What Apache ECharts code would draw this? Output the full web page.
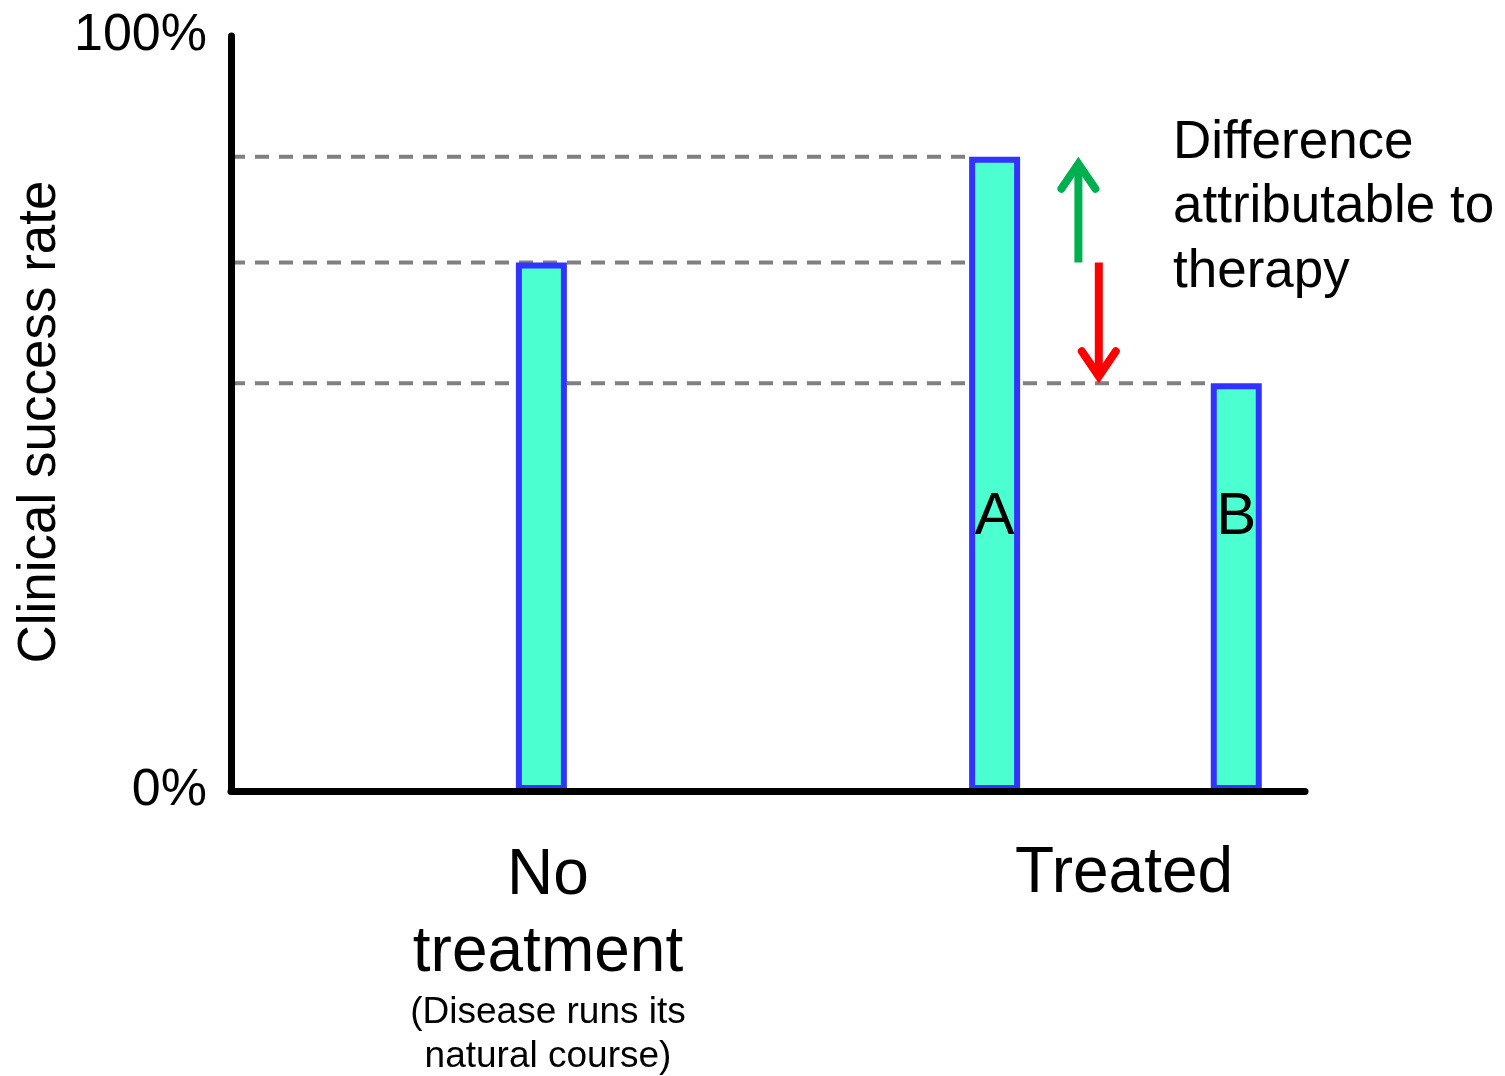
<!DOCTYPE html>
<html>
<head>
<meta charset="utf-8">
<script src="https://cdn.jsdelivr.net/npm/echarts@6/dist/echarts.min.js"></script>
<style>
html,body{margin:0;padding:0;background:#fff;}
#chart{width:1505px;height:1076px;}
</style>
</head>
<body>
<div id="chart"></div>
<script>
// ---- data ----
const categories = ['No treatment', 'A', 'B'];
const successRate = [70, 84, 54];          // % clinical success
const yTickValues = [0, 100];
const yTickLabels = ['0%', '100%'];
const groupLabels = ['No\ntreatment', 'Treated'];
const groupNote = '(Disease runs its\nnatural course)';
const noteText = 'Difference\nattributable to\ntherapy';
const yAxisTitle = 'Clinical success rate';

// ---- layout / style ----
const FONT = "'Liberation Sans', Arial, Helvetica, sans-serif";
const slotX = [28.9, 71.1, 93.6];   // slots on the hidden 0-100 horizontal layout axis
const arrowX = [78.9, 80.8];
const arrowColors = ['#00B050', '#FF0000'];
const BAR_W = 51;

const chart = echarts.init(document.getElementById('chart'), null, {renderer: 'canvas'});

const barData = categories.map((c, i) => ({
  name: c,
  value: [slotX[i], successRate[i]],
  label: {show: i > 0}
}));

// dashed reference lines: from the y axis to the left edge of the bar they refer to
const refData = [
  [successRate[0], slotX[1]],
  [successRate[1], slotX[1]],
  [successRate[2], slotX[2]]
];

const arrowData = [
  [arrowX[0], successRate[0], successRate[1]],
  [arrowX[1], successRate[0], successRate[2]]
];

const option = {
  animation: false,
  backgroundColor: '#ffffff',
  grid: {left: 231, right: 200, top: 36, bottom: 285, containLabel: false},
  xAxis: {
    type: 'value', min: 0, max: 100, z: 10,
    axisLine: {show: true, onZero: false, lineStyle: {color: '#000', width: 7}},
    axisTick: {show: false}, axisLabel: {show: false}, splitLine: {show: false}
  },
  yAxis: {
    type: 'value', min: 0, max: 100, interval: 100, z: 10,
    axisLine: {show: true, lineStyle: {color: '#000', width: 7}},
    axisTick: {show: false}, splitLine: {show: false},
    axisLabel: {
      margin: 24, color: '#000', fontSize: 52, fontFamily: FONT,
      formatter: v => yTickLabels[yTickValues.indexOf(v)] || ''
    }
  },
  series: [
    {
      type: 'custom',
      z: 1,
      silent: true,
      clip: false,
      data: refData,
      encode: {x: 1, y: 0},
      renderItem: (params, api) => {
        const p0 = api.coord([0, api.value(0)]);
        const p1 = api.coord([api.value(1), api.value(0)]);
        return {
          type: 'line',
          shape: {x1: p0[0], y1: p0[1], x2: p1[0] - BAR_W / 2, y2: p1[1]},
          style: {stroke: '#808080', lineWidth: 4, lineDash: [14, 10]}
        };
      }
    },
    {
      type: 'bar',
      z: 2,
      barWidth: BAR_W,
      data: barData,
      itemStyle: {color: '#4BFFD0', borderColor: '#3333FF', borderWidth: 6},
      label: {
        position: 'insideBottom', distance: 244,
        formatter: p => p.name,
        color: '#000', fontSize: 60, lineHeight: 60, fontFamily: FONT
      },
      silent: true
    },
    {
      type: 'custom',
      z: 3,
      silent: true,
      clip: false,
      data: arrowData,
      encode: {x: 0, y: [1, 2]},
      renderItem: (params, api) => {
        const p0 = api.coord([api.value(0), api.value(1)]);
        const p1 = api.coord([api.value(0), api.value(2)]);
        const dir = p1[1] < p0[1] ? 1 : -1;   // 1: pointing up
        const color = arrowColors[params.dataIndex];
        const tipY = p1[1] + dir * 7;
        return {
          type: 'group',
          children: [
            {type: 'line', shape: {x1: p0[0], y1: p0[1], x2: p0[0], y2: tipY},
             style: {stroke: color, lineWidth: 8, lineCap: 'butt'}},
            {type: 'polyline',
             shape: {points: [[p1[0] - 17, p1[1] + dir * 32], [p1[0], tipY], [p1[0] + 17, p1[1] + dir * 32]]},
             style: {stroke: color, fill: null, lineWidth: 8, lineCap: 'round', lineJoin: 'miter'}}
          ]
        };
      }
    }
  ],
  graphic: [
    {type: 'text', x: 40, y: 422, rotation: Math.PI / 2,
     style: {text: yAxisTitle, fill: '#000', font: '53px ' + FONT, align: 'center', verticalAlign: 'middle'}},
    {type: 'text', x: 1173, y: 111,
     style: {text: noteText, fill: '#000', font: '53px ' + FONT, lineHeight: 64.5, align: 'left', verticalAlign: 'top'}},
    {type: 'text', x: 548, y: 838,
     style: {text: groupLabels[0], fill: '#000', font: '64px ' + FONT, lineHeight: 77, align: 'center', verticalAlign: 'top'}},
    {type: 'text', x: 548, y: 991,
     style: {text: groupNote, fill: '#000', font: '37px ' + FONT, lineHeight: 44, align: 'center', verticalAlign: 'top'}},
    {type: 'text', x: 1124, y: 836,
     style: {text: groupLabels[1], fill: '#000', font: '64px ' + FONT, lineHeight: 77, align: 'center', verticalAlign: 'top'}}
  ]
};
chart.setOption(option);
</script>
</body>
</html>
